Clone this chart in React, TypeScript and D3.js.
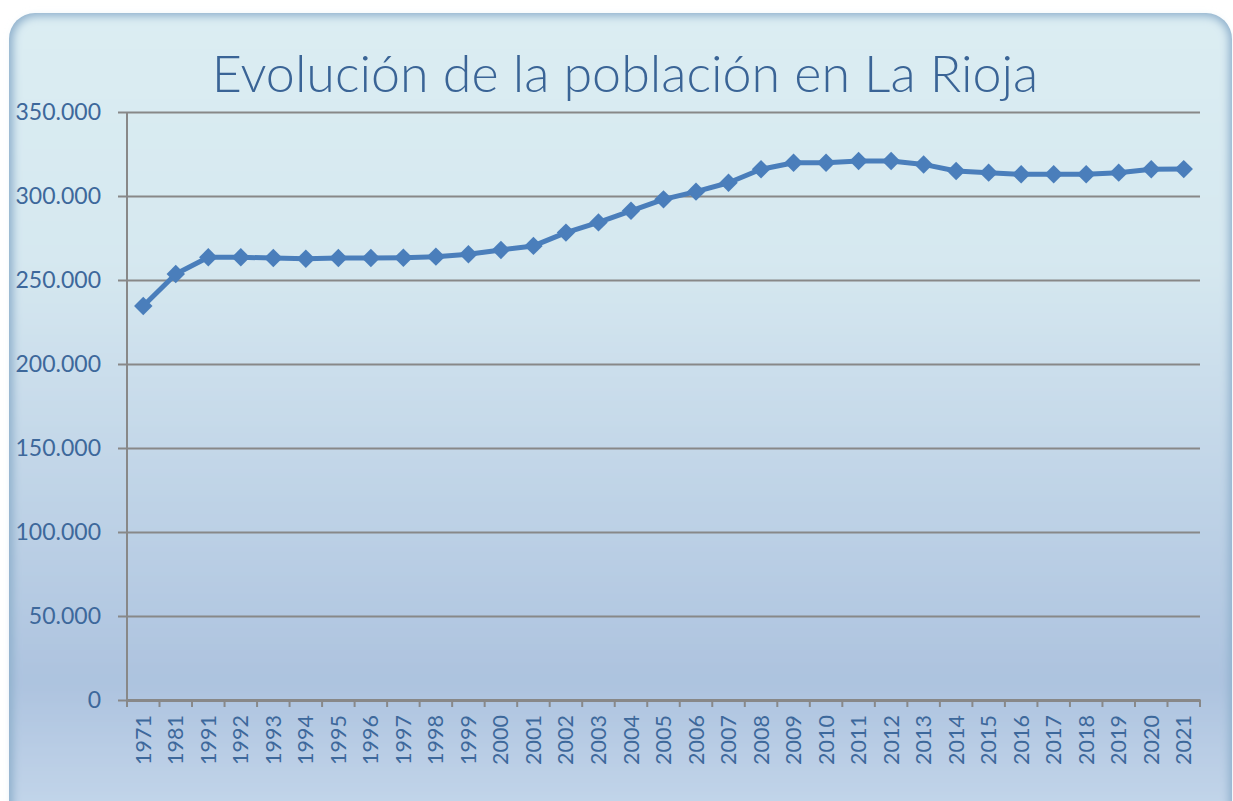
import React, { useEffect, useRef } from 'react';
import * as d3 from 'd3';

const years = ['1971', '1981', '1991', '1992', '1993', '1994', '1995', '1996', '1997', '1998', '1999', '2000', '2001', '2002', '2003', '2004', '2005', '2006', '2007', '2008', '2009', '2010', '2011', '2012', '2013', '2014', '2015', '2016', '2017', '2018', '2019', '2020', '2021'];
const population = [234500, 253600, 263500, 263500, 263100, 262700, 263100, 263100, 263300, 263900, 265300, 267900, 270300, 278200, 284300, 291200, 298000, 302600, 307900, 315900, 319800, 319800, 320800, 320800, 318800, 314900, 313900, 312900, 312900, 312900, 313900, 315900, 316000];
const yTicks = [0, 50000, 100000, 150000, 200000, 250000, 300000, 350000];
const title = 'Evolución de la población en La Rioja';

const W = 1233, H = 801;

export default function App() {
  const ref = useRef<SVGSVGElement>(null);

  useEffect(() => {
    const svg = d3.select(ref.current);
    svg.selectAll('*').remove();

    const margin = { top: 112, right: 33, bottom: 101, left: 127 };
    const width = W - margin.left - margin.right,
      height = H - margin.top - margin.bottom;

    const defs = svg.append('defs');
    const grad = defs.append('linearGradient').attr('id', 'bg').attr('x1', 0).attr('y1', 0).attr('x2', 0).attr('y2', 1);
    grad.append('stop').attr('offset', '0%').attr('stop-color', '#dbedf3');
    grad.append('stop').attr('offset', '30%').attr('stop-color', '#d6e8f0');
    grad.append('stop').attr('offset', '82%').attr('stop-color', '#adc3df');
    grad.append('stop').attr('offset', '100%').attr('stop-color', '#c6d8eb');

    const edge = defs.append('filter').attr('id', 'edge').attr('x', '-5%').attr('y', '-5%').attr('width', '110%').attr('height', '110%');
    edge.append('feGaussianBlur').attr('stdDeviation', 4);

    // panel
    svg.append('rect')
      .attr('x', 9).attr('y', 13).attr('width', 1223).attr('height', 820)
      .attr('rx', 26).attr('fill', '#8fb0cc');
    svg.append('rect')
      .attr('x', 13).attr('y', 16).attr('width', 1216).attr('height', 812)
      .attr('rx', 24).attr('fill', 'url(#bg)').attr('filter', 'url(#edge)');

    svg.append('text')
      .attr('x', 625).attr('y', 92)
      .attr('text-anchor', 'middle')
      .attr('font-family', 'Lato, "Open Sans", sans-serif')
      .attr('font-weight', 300)
      .attr('font-size', 52)
      .attr('fill', '#3a6496')
      .text(title);

    const g = svg.append('g').attr('transform', `translate(${margin.left},${margin.top})`);

    const x = d3.scaleBand().domain(years).range([0, width]);
    const y = d3.scaleLinear().domain([0, 350000]).range([height, 0]);

    const fmt = (v: number) => d3.format(',')(v).replace(/,/g, '.');

    // gridlines + y axis
    const yAxis = g.append('g')
      .call(d3.axisLeft(y).tickValues(yTicks).tickSize(-width).tickSizeOuter(0).tickPadding(26).tickFormat(fmt as any));
    yAxis.select('.domain').remove();
    yAxis.selectAll('line').attr('stroke', '#888').attr('stroke-width', 2).attr('x1', -9);
    yAxis.selectAll('text')
      .attr('fill', '#3d689b')
      .attr('font-family', 'Lato, "Open Sans", sans-serif')
      .attr('font-size', 23)
      .attr('dy', '0.32em');

    g.append('line').attr('x1', 0).attr('x2', 0).attr('y1', 0).attr('y2', height)
      .attr('stroke', '#888').attr('stroke-width', 2);

    // x axis
    const xAxis = g.append('g').attr('transform', `translate(0,${height})`)
      .call(d3.axisBottom(x).tickSize(0));
    xAxis.select('.domain').attr('stroke', '#888').attr('stroke-width', 3);
    xAxis.selectAll('text')
      .attr('fill', '#3d689b')
      .attr('font-family', 'Lato, "Open Sans", sans-serif')
      .attr('font-size', 21.5)
      .attr('transform', 'rotate(-90)')
      .attr('text-anchor', 'end')
      .attr('x', -15)
      .attr('y', 0)
      .attr('dy', '0.35em');

    const bounds = years.map(d => x(d) as number).concat([width]);
    g.append('g').selectAll('line').data(bounds).join('line')
      .attr('x1', d => d).attr('x2', d => d)
      .attr('y1', height).attr('y2', height + 7)
      .attr('stroke', '#888').attr('stroke-width', 2);

    const cx = (d: string) => (x(d) as number) + x.bandwidth() / 2;
    const pts = years.map((d, i) => [cx(d), y(population[i])] as [number, number]);

    g.append('path')
      .attr('d', d3.line()(pts))
      .attr('fill', 'none')
      .attr('stroke', '#4a7ebb')
      .attr('stroke-width', 5)
      .attr('stroke-linejoin', 'round');

    g.append('g').selectAll('path').data(pts).join('path')
      .attr('d', d3.symbol(d3.symbolSquare, 170)() as string)
      .attr('transform', d => `translate(${d[0]},${d[1]}) rotate(45)`)
      .attr('fill', '#4a7ebb');
  }, []);

  return (
    <svg ref={ref} width={W} height={H} style={{ position: 'absolute', left: 0, top: 0, display: 'block' }} />
  );
}
